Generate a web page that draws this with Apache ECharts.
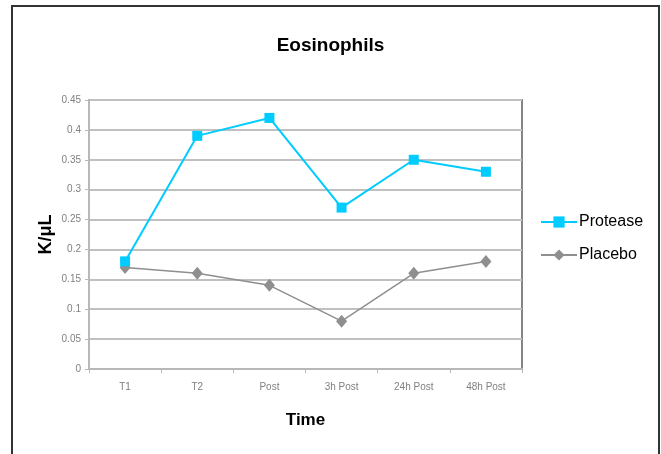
<!DOCTYPE html>
<html>
<head>
<meta charset="utf-8">
<script src="https://cdn.jsdelivr.net/npm/echarts@6/dist/echarts.min.js"></script>
<style>
  html, body { margin: 0; padding: 0; background: #fff; }
  #chart { width: 661px; height: 454px; }
</style>
</head>
<body>
<div id="chart"></div>
<script>
// Eosinophil counts (K/µL) over the study time points
const timePoints = ['T1', 'T2', 'Post', '3h Post', '24h Post', '48h Post'];
const protease = [0.18, 0.39, 0.42, 0.27, 0.35, 0.33];
const placebo = [0.17, 0.16, 0.14, 0.08, 0.16, 0.18];

const FONT = '"Liberation Sans", Arial, sans-serif';

const chart = echarts.init(document.getElementById('chart'), null, { renderer: 'canvas' });

chart.setOption({
  backgroundColor: '#ffffff',
  animation: false,
  title: {
    text: 'Eosinophils',
    left: 'center',
    top: 31,
    textStyle: { fontFamily: FONT, fontSize: 19, fontWeight: 'bold', color: '#000' }
  },
  grid: {
    left: 89, top: 100, right: 139, bottom: 85,
    show: true,
    borderColor: '#858585',
    borderWidth: 2
  },
  legend: {
    orient: 'vertical',
    left: 540,
    top: 214,
    padding: 0,
    itemWidth: 36,
    itemHeight: 14,
    itemGap: 17,
    textStyle: { fontFamily: FONT, fontSize: 16, color: '#000', padding: [0, 0, 0, -3] },
    data: ['Protease', 'Placebo']
  },
  xAxis: {
    type: 'category',
    data: timePoints,
    boundaryGap: true,
    name: 'Time',
    nameLocation: 'middle',
    nameGap: 43,
    nameMoveOverlap: false,
    nameTextStyle: { fontFamily: FONT, fontSize: 17, fontWeight: 'bold', color: '#000' },
    axisLine: { lineStyle: { color: '#b8b8b8', width: 2 } },
    axisTick: { show: true, length: 4, lineStyle: { color: '#b8b8b8', width: 1 } },
    axisLabel: { fontFamily: FONT, fontSize: 10, color: '#808080', margin: 13 },
    splitLine: { show: false }
  },
  yAxis: {
    type: 'value',
    min: 0,
    max: 0.45,
    interval: 0.05,
    name: 'K/μL',
    nameLocation: 'middle',
    nameRotate: 90,
    nameGap: 34,
    nameMoveOverlap: false,
    nameTextStyle: { fontFamily: FONT, fontSize: 18, fontWeight: 'bold', color: '#000' },
    axisLine: { show: true, lineStyle: { color: '#b8b8b8', width: 2 } },
    axisTick: { show: true, length: 4, lineStyle: { color: '#b8b8b8', width: 1 } },
    axisLabel: {
      fontFamily: FONT, fontSize: 10, color: '#808080', margin: 8,
      formatter: v => String(Math.round(v * 100) / 100)
    },
    splitLine: { show: true, lineStyle: { color: '#c0c0c0', width: 2 } }
  },
  series: [
    {
      name: 'Protease',
      type: 'line',
      data: protease,
      symbol: 'rect',
      symbolSize: 10,
      itemStyle: { color: '#00ccff' },
      lineStyle: { color: '#00ccff', width: 2 },
      z: 3
    },
    {
      name: 'Placebo',
      type: 'line',
      data: placebo,
      symbol: 'diamond',
      symbolSize: [11, 13],
      itemStyle: { color: '#8f8f8f' },
      lineStyle: { color: '#8f8f8f', width: 1.5 },
      z: 2
    }
  ],
  graphic: [
    {
      type: 'rect',
      silent: true,
      shape: { x: 12, y: 6, width: 647, height: 500 },
      style: { fill: null, stroke: '#333333', lineWidth: 2 },
      z: 100
    }
  ]
});
</script>
</body>
</html>
